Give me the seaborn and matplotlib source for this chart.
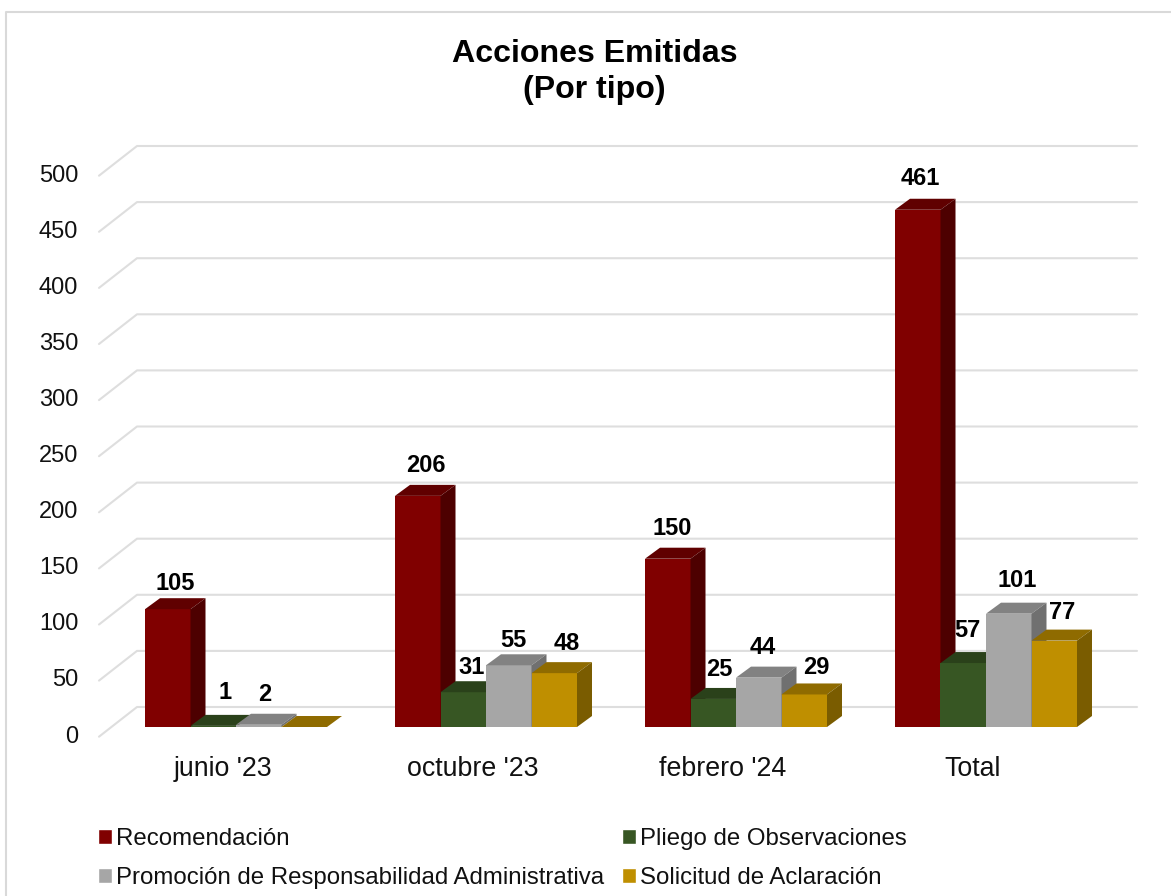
import pandas as pd
import numpy as np
import seaborn as sns
import matplotlib.pyplot as plt
from matplotlib.lines import Line2D
from matplotlib.patches import Polygon
from matplotlib.transforms import ScaledTranslation

periodos = ["junio '23", "octubre '23", "febrero '24", "Total"]
tipos = ['Recomendación', 'Pliego de Observaciones',
         'Promoción de Responsabilidad Administrativa', 'Solicitud de Aclaración']
recomendacion = [105, 206, 150, 461]
pliego = [1, 31, 25, 57]
promocion = [2, 55, 44, 101]
solicitud = [0, 48, 29, 77]
yticks = [0, 50, 100, 150, 200, 250, 300, 350, 400, 450, 500]

# colours: front, top, side
front = ['#800000', '#375623', '#a6a6a6', '#bf8f00']
top = ['#600000', '#2a411a', '#828282', '#8f6b00']
side = ['#4d0000', '#243a17', '#707070', '#7a5c00']

# label offsets from the bar's front top centre, in pixels
label_dx = [[7, 8, 4, 3], [12, 8, 6, 4], [6, 5, 4, 8], [0, 13, 12, 8]]
label_dy = [[26, 30, 30, 31], [33, 25, 29, 33], [30, 25, 30, 33], [0, 30, 27, 28]]

W, H = 1171, 896
px_y = 1.122  # pixels per unit on y
px_x = 250.   # pixels per category
depth_x, depth_y = 15 / px_x, 11 / px_y

sns.set_theme(style='white')
plt.rcParams['font.family'] = ['Liberation Sans', 'DejaVu Sans']

df = pd.DataFrame({'periodo': periodos * 4,
                   'tipo': np.repeat(tipos, 4),
                   'acciones': recomendacion + pliego + promocion + solicitud})

fig = plt.figure(figsize=(W / 100, H / 100), dpi=100)
ax = fig.add_axes([111 / W, (H - 727) / H, 1000 / W, 628 / H])
sns.barplot(data=df, x='periodo', y='acciones', hue='tipo', order=periodos, hue_order=tipos,
            palette=front, saturation=1, width=0.728, errorbar=None, ax=ax)
ax.set_xlim(-0.5, 3.5)
ax.set_ylim(0, 628 / px_y)
sns.despine(ax=ax, left=True, bottom=True)
ax.set_xlabel('')
ax.set_ylabel('')

# walls
for v in yticks:
    ax.plot([(99 - 236) / px_x, (137 - 236) / px_x, (1137 - 236) / px_x],
            [v - 9.7 / px_y, v + 20 / px_y, v + 20 / px_y],
            color='#dedede', lw=1.5, clip_on=False, zorder=1)

# 3d faces and value labels
for s, cont in enumerate(ax.containers):
    for c, bar in enumerate(cont):
        x0, w, h = bar.get_x(), bar.get_width(), bar.get_height()
        bar.set_zorder(3 + s)
        bar.set_linewidth(0)
        ax.add_patch(Polygon([(x0, h), (x0 + w, h), (x0 + w + depth_x, h + depth_y), (x0 + depth_x, h + depth_y)],
                             closed=True, fc=top[s], ec='none', zorder=3 + s))
        ax.add_patch(Polygon([(x0 + w, 0), (x0 + w + depth_x, depth_y), (x0 + w + depth_x, h + depth_y), (x0 + w, h)],
                             closed=True, fc=side[s], ec='none', zorder=3 + s))
        if h > 0:
            ax.annotate(str(int(h)), (x0 + w / 2, h),
                        xytext=(label_dx[s][c] * 0.72, label_dy[s][c] * 0.72), textcoords='offset points',
                        ha='center', va='center', fontsize=17, fontweight='bold', color='black', zorder=20)

# ticks
ax.set_yticks(yticks)
ax.tick_params(axis='y', length=0, pad=23.5, labelsize=17, labelcolor='#111111')
ax.tick_params(axis='x', length=0, pad=20.8, labelsize=19.3, labelcolor='#111111')
shift_y = ScaledTranslation(0, -7 / 100, fig.dpi_scale_trans)
for lab in ax.get_yticklabels():
    lab.set_transform(lab.get_transform() + shift_y)
shift_x = ScaledTranslation(-13 / 100, 0, fig.dpi_scale_trans)
for lab in ax.get_xticklabels():
    lab.set_transform(lab.get_transform() + shift_x)

# legend, filled column by column
handles, labels = ax.get_legend_handles_labels()
order = [0, 2, 1, 3]
ax.legend([handles[i] for i in order], [labels[i] for i in order], ncol=2, frameon=False,
          loc='upper left', bbox_to_anchor=(98 / W, (H - 828) / H), bbox_transform=fig.transFigure,
          borderpad=0, borderaxespad=0, fontsize=17.3, labelcolor='#111111',
          handlelength=0.58, handleheight=0.58, handletextpad=0.17, columnspacing=0.75, labelspacing=0.69)

fig.text(594.5 / W, (H - 72) / H, 'Acciones Emitidas\n(Por tipo)', ha='center', va='center',
         fontsize=23.1, fontweight='bold', color='black', linespacing=1.22)

# chart border, only left and top are inside the picture
fig.add_artist(Line2D([6 / W, 6 / W, 1], [0, (H - 12) / H, (H - 12) / H], transform=fig.transFigure,
                      color='#d9d9d9', lw=1.5))

fig.savefig('out.png', dpi=100)
